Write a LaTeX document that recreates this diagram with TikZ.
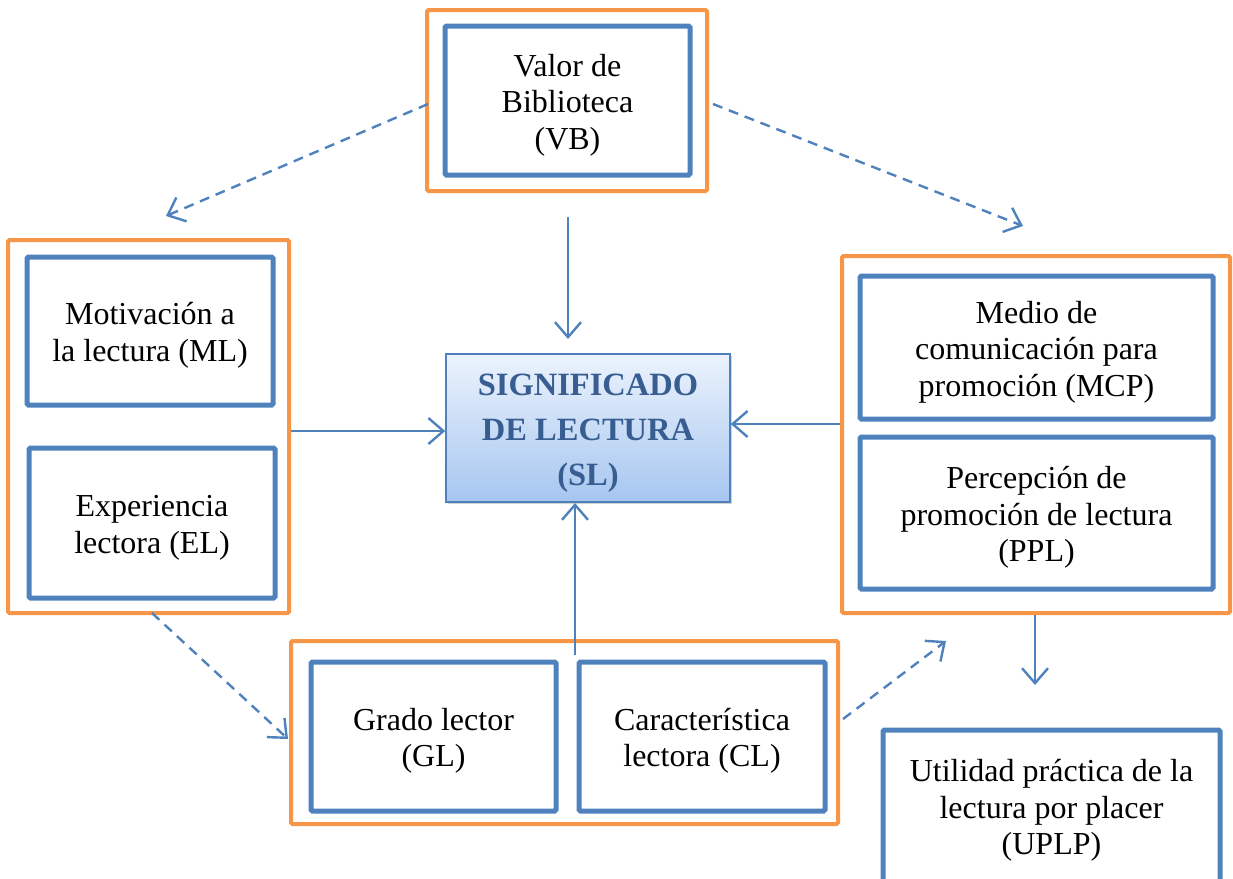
\documentclass[tikz,border=0pt]{standalone}
\usepackage{fontspec}
\setmainfont{Liberation Serif}
\usetikzlibrary{arrows.meta,shadows,calc}
\definecolor{obox}{HTML}{F79646}
\definecolor{bbox}{HTML}{4F81BD}
\definecolor{sltext}{RGB}{55,93,145}
\definecolor{sltop}{RGB}{236,243,253}
\definecolor{slbot}{RGB}{166,198,240}
\newcommand{\tstr}{\rule{0pt}{31pt}}
\begin{document}
\begin{tikzpicture}[x=1pt,y=-1pt,
  outerbox/.style={draw=obox, line width=4pt, rounded corners=1.5pt, inner sep=0pt},
  innerbox/.style={draw=bbox, line width=5pt, rounded corners=1.5pt, inner sep=0pt,
    align=center, font=\fontsize{32}{36.5}\selectfont},
  conn/.style={draw=bbox, line width=2.4pt, -{Straight Barb[length=15pt,width=26pt,line width=2.4pt]}},
  dconn/.style={conn, dash pattern=on 10pt off 7pt},
  sigbox/.style={draw=bbox, line width=1.5pt, top color=sltop, bottom color=slbot,
    drop shadow={opacity=0.35, shadow xshift=2pt, shadow yshift=-2pt},
    inner sep=0pt, align=center, text=sltext,
    font=\fontsize{32.5}{45}\selectfont\bfseries}]
\useasboundingbox (0,0) rectangle (1233,878);
% outer groups
\node[outerbox, minimum width=280, minimum height=181] (VBo) at (567,100.5) {};
\node[outerbox, minimum width=281, minimum height=373] (Lo) at (148.5,426.5) {};
\node[outerbox, minimum width=547, minimum height=183] (Bo) at (564.5,732.5) {};
\node[outerbox, minimum width=388, minimum height=357] (Ro) at (1036,434.5) {};
% inner boxes
\node[innerbox, minimum width=245, minimum height=149] (VB) at (567.5,100.5) {\tstr Valor de\\Biblioteca\\(VB)};
\node[innerbox, minimum width=246, minimum height=148] (ML) at (150,331) {\tstr Motivación a\\la lectura (ML)};
\node[innerbox, minimum width=246, minimum height=150] (EL) at (152,523) {\tstr Experiencia\\lectora (EL)};
\node[innerbox, minimum width=245, minimum height=149] (GL) at (433.5,736.5) {\tstr Grado lector\\(GL)};
\node[innerbox, minimum width=246, minimum height=149] (CL) at (702,736.5) {\tstr Característica\\lectora (CL)};
\node[innerbox, minimum width=353, minimum height=143] (MCP) at (1036.5,347.5) {\tstr Medio de\\comunicación para\\promoción (MCP)};
\node[innerbox, minimum width=353, minimum height=152] (PPL) at (1036.5,513) {\tstr Percepción de\\promoción de lectura\\(PPL)};
\node[innerbox, minimum width=337, minimum height=152] (UPLP) at (1051.5,806) {\tstr Utilidad práctica de la\\lectura por placer\\(UPLP)};
% central node
\node[sigbox, minimum width=284, minimum height=148] (SL) at (588,428) {\rule{0pt}{32pt}SIGNIFICADO\\DE LECTURA\\(SL)};
% free ends
\coordinate (vbs) at (568,217);
\coordinate (vbe) at (568,339);
\coordinate (bos) at (575,655);
\coordinate (boe) at (575,503);
\coordinate (d1s) at (428,104);
\coordinate (d1e) at (166,216);
\coordinate (d2s) at (713,104);
\coordinate (d2e) at (1023,226);
\coordinate (d3s) at (152,613);
\coordinate (d3e) at (288,739);
\coordinate (d4s) at (843,719);
\coordinate (d4e) at (946,641);
% solid connectors
\draw[conn] (vbs) -- (vbe);
\draw[conn] (Lo.east |- 0,431) -- (SL.west |- 0,431);
\draw[conn] (Ro.west |- 0,424) -- (SL.east |- 0,424);
\draw[conn] (bos) -- (boe);
\draw[conn] (Ro.south -| 1035,0) -- ++(0,70);
% dashed connectors
\draw[dconn] (d1s) -- (d1e);
\draw[dconn] (d2s) -- (d2e);
\draw[dconn] (d3s) -- (d3e);
\draw[dconn] (d4s) -- (d4e);
\end{tikzpicture}
\end{document}
